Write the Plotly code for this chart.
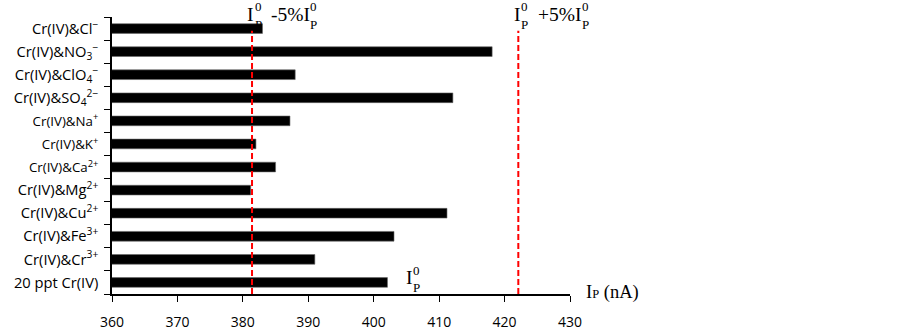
import plotly.graph_objects as go

# ---- data ----
labels = [
    "Cr(IV)&Cl<sup>−</sup>",
    "Cr(IV)&NO<sub>3</sub><sup>−</sup>",
    "Cr(IV)&ClO<sub>4</sub><sup>−</sup>",
    "Cr(IV)&SO<sub>4</sub><sup>2−</sup>",
    "Cr(IV)&Na<sup>+</sup>",
    "Cr(IV)&K<sup>+</sup>",
    "Cr(IV)&Ca<sup>2+</sup>",
    "Cr(IV)&Mg<sup>2+</sup>",
    "Cr(IV)&Cu<sup>2+</sup>",
    "Cr(IV)&Fe<sup>3+</sup>",
    "Cr(IV)&Cr<sup>3+</sup>",
    "20 ppt Cr(IV)",
]
ip_values = [383.0, 418.1, 388.0, 412.1, 387.2, 382.0, 385.0, 381.2, 411.2, 403.1, 391.0, 402.1]
limit_values = [381.4, 422.1]   # I0 -5%, I0 +5%
x_ticks = [360, 370, 380, 390, 400, 410, 420, 430]
small_label_idx = {4, 5, 6}

# ---- layout constants (pixels) ----
W, H = 902, 331
L, R, T, B = 111.5, 570, 17, 294
SERIF = "Liberation Serif"
BIG, SMALL = 19.5, 13

def px(x):
    return (x - L) / (R - L)

def py(y):
    return (B - y) / (B - T)

ticktext = []
for i, lab in enumerate(labels):
    if i in small_label_idx:
        ticktext.append(f"<span style='font-size:13.3px'>{lab}</span>")
    else:
        ticktext.append(lab)

fig = go.Figure()
fig.add_trace(go.Bar(
    x=ip_values,
    y=labels,
    orientation="h",
    marker=dict(color="black", line=dict(color="#666", width=0.6)),
    width=0.42,
    hoverinfo="x+y",
))

for v in limit_values:
    fig.add_shape(type="line", xref="x", yref="paper", x0=v, x1=v, y0=0, y1=0.95,
                  line=dict(color="#ff0000", width=2, dash="6px,3px"))

anns = []
def ann(text, x, y, size, xanchor="center"):
    anns.append(dict(text=text, x=px(x), y=py(y), xref="paper", yref="paper",
                     showarrow=False, xanchor=xanchor, yanchor="middle",
                     font=dict(family=SERIF, size=size, color="black")))

def ip0(xi, yc):
    ann("I", xi, yc, BIG)
    ann("0", xi + 7.5, yc - 7, SMALL)
    ann("P", xi + 7.5, yc + 10, SMALL)

# top-left group
ip0(250.3, 14)
ann("-5%I", 269, 14, BIG, "left")
ann("0", 313, 7, SMALL)
ann("P", 313.5, 24, SMALL)
# top-right group
ip0(517, 14)
ann("+5%I", 535.5, 14, BIG, "left")
ann("0", 585.5, 7, SMALL)
ann("P", 585.5, 24, SMALL)
# bottom I0
ip0(409, 277.5)
# axis title
ann("I<span style='font-size:12.5px'>P</span> (nA)", 584, 292, 18.5, "left")

fig.update_layout(
    width=W, height=H,
    margin=dict(l=L, r=W - R, t=T, b=H - B, pad=0, autoexpand=False),
    paper_bgcolor="white", plot_bgcolor="white",
    showlegend=False,
    annotations=anns,
    xaxis=dict(
        range=[360, 430], tickvals=x_ticks, ticktext=[str(t) for t in x_ticks],
        showgrid=False, zeroline=False, showline=True, linecolor="black", linewidth=1.5,
        ticks="outside", ticklen=6, tickwidth=1.2, tickcolor="black", automargin=False,
        ticklabelstandoff=8,
        tickfont=dict(family="Open Sans", size=14, color="black"),
    ),
    yaxis=dict(
        type="category", autorange="reversed",
        tickvals=labels, ticktext=ticktext, automargin=False,
        showgrid=False, zeroline=False, showline=True, linecolor="black", linewidth=1.5,
        ticks="outside", ticklen=6, tickwidth=1.2, tickcolor="black", tickson="boundaries",
        ticklabelstandoff=9,
        tickfont=dict(family="Open Sans", size=14.7, color="black"),
    ),
)

fig.write_html(
    "out.html",
    config={"displayModeBar": False},
    post_script="document.body.style.margin='0';document.body.style.overflow='hidden';",
)
